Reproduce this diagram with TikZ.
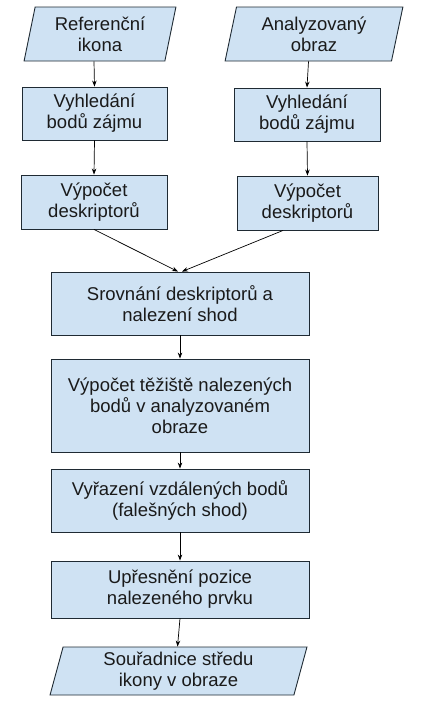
\documentclass[tikz,border=0pt]{standalone}
\usepackage{fontspec}
\setmainfont{Liberation Sans}
\usetikzlibrary{shapes.geometric,arrows.meta}
\definecolor{boxfill}{HTML}{CFE2F3}
\definecolor{boxline}{HTML}{1F2A33}
\definecolor{txt}{HTML}{1A1A1A}
\begin{document}
\begin{tikzpicture}[x=1pt,y=-1pt,
  base/.style={draw=boxline,fill=boxfill,line width=0.9pt,inner sep=0pt,align=center,
    text=txt,font=\fontsize{18.5}{21}\selectfont},
  procbox/.style={base,rectangle},
  iobox/.style={base,trapezium,trapezium left angle=77.5,trapezium right angle=102.5,
    trapezium stretches=true},
  conn/.style={-{Stealth[length=6pt,width=4.5pt]},line width=0.7pt,draw=black}]
\useasboundingbox (0,0) rectangle (429,710);
\node[iobox,minimum width=152pt,minimum height=54pt] (p1) at (100,34) {Referenční\\ikona};
\node[iobox,minimum width=178pt,minimum height=54pt] (p2) at (314,34) {Analyzovaný\\obraz};
\node[procbox,minimum width=145pt,minimum height=53pt] (v1) at (94.5,113.5) {Vyhledání\\bodů zájmu};
\node[procbox,minimum width=146pt,minimum height=53pt] (v2) at (307,114.5) {Vyhledání\\bodů zájmu};
\node[procbox,minimum width=146pt,minimum height=54pt] (d1) at (94,202) {Výpočet\\deskriptorů};
\node[procbox,minimum width=141pt,minimum height=54pt] (d2) at (307.5,203) {Výpočet\\deskriptorů};
\node[procbox,minimum width=258pt,minimum height=63pt] (s) at (180,303.5) {Srovnání deskriptorů a\\nalezení shod};
\node[procbox,minimum width=258pt,minimum height=93pt] (t) at (180,405.5) {Výpočet těžiště nalezených\\bodů v analyzovaném\\obraze};
\node[procbox,minimum width=258pt,minimum height=63pt] (vy) at (180,500.5) {Vyřazení vzdálených bodů\\(falešných shod)};
\node[procbox,minimum width=258pt,minimum height=57pt] (u) at (180,589.5) {Upřesnění pozice\\nalezeného prvku};
\node[iobox,minimum width=257pt,minimum height=48pt] (sc) at (178.5,671) {Souřadnice středu\\ikony v obraze};
\draw[conn] ([xshift=-6pt]p1.south) -- (v1.north);
\draw[conn] ([xshift=-5.5pt]p2.south) -- (v2.north);
\draw[conn] (v1.south) -- (d1.north);
\draw[conn] (v2.south) -- (d2.north);
\draw[conn] (d1.south) -- ([xshift=-2pt]s.north);
\draw[conn] ([xshift=-24.5pt]d2.south) -- ([xshift=2pt]s.north);
\draw[conn] (s.south) -- (t.north);
\draw[conn] (t.south) -- (vy.north);
\draw[conn] (vy.south) -- (u.north);
\draw[conn] (u.south) -- ([xshift=-1pt]sc.north);
\end{tikzpicture}
\end{document}
